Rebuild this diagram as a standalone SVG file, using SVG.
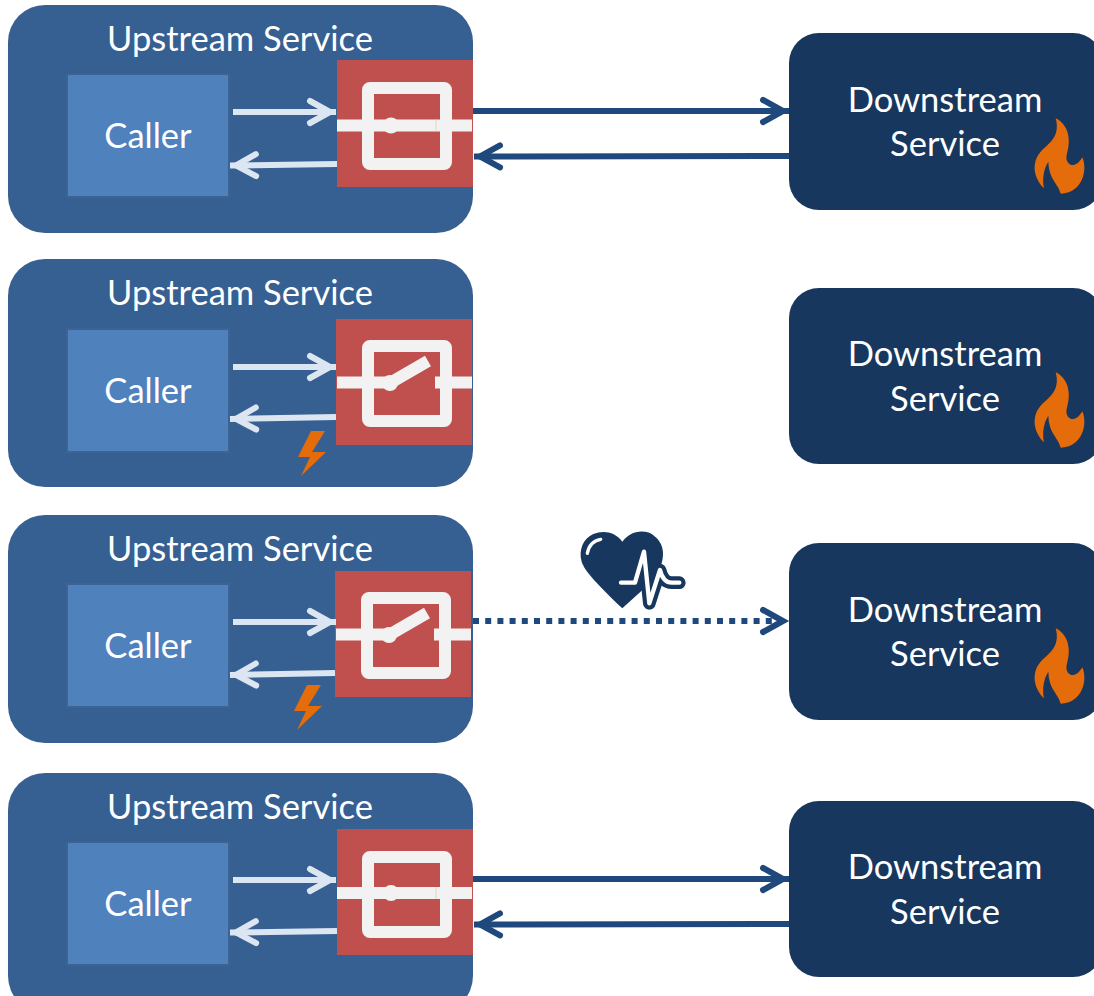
<svg xmlns="http://www.w3.org/2000/svg" width="1094" height="996" viewBox="0 0 1094 996">
<style>
text{font-family:"Lato","Carlito","Open Sans",sans-serif;fill:#fff;font-size:34.5px;text-anchor:middle}
.up{fill:#376092}
.caller{fill:#4f81bd;stroke:#3b6494;stroke-width:4;paint-order:stroke}
.cb{fill:#c0504d}
.sw{fill:none;stroke:#f2f2f2;stroke-width:12;stroke-linejoin:round}
.bar{fill:#f2f2f2}
.down{fill:#17375e}
.orange{fill:#e46c0a}
.w{stroke:#dce6f2;stroke-width:6;fill:none}
.d{stroke:#1f497d;stroke-width:6;fill:none}
.dot{stroke-dasharray:6 6.2}
.mw{fill:none;stroke:#dce6f2;stroke-width:6;stroke-linecap:round;stroke-linejoin:miter}
.md{fill:none;stroke:#1f497d;stroke-width:6;stroke-linecap:round;stroke-linejoin:miter}
</style>
<defs>
<marker id="aw" markerUnits="userSpaceOnUse" markerWidth="34" markerHeight="34" refX="31" refY="17" orient="auto" overflow="visible"><path class="mw" d="M5 6L25 17L5 28"/></marker>
<marker id="ad" markerUnits="userSpaceOnUse" markerWidth="34" markerHeight="34" refX="31" refY="17" orient="auto" overflow="visible"><path class="md" d="M5 6L25 17L5 28"/></marker>
<path id="flame" class="orange" transform="scale(.3333)" d="M125 55C165 75 172 120 158 165C152 190 180 215 205 172C222 210 205 280 140 281C133 250 105 240 103 185C90 205 84 235 90 265C60 235 50 190 80 155C105 130 140 110 125 55Z"/>
<polygon id="bolt" class="orange" points="325,431 311,431 298,457 310,457 301,476 326,452 312,452"/>
</defs>

<g id="upstream-1"><rect class="up" x="8" y="5" width="465" height="228" rx="37"/><text x="240" y="51">Upstream Service</text></g>
<g id="caller-1"><rect class="caller" x="68" y="75" width="160" height="121"/><text x="148" y="148">Caller</text></g>
<g id="breaker-1"><rect class="cb" x="337" y="60" width="136" height="127"/><rect class="sw" x="368" y="88" width="78" height="76" rx="2"/><rect class="bar" x="337" y="119.500" width="135" height="12"/><circle class="bar" cx="391" cy="125.500" r="8"/><rect x="435.500" y="119.500" width="1" height="12" fill="#e3cfce"/></g>
<g id="downstream-1"><rect class="down" x="789" y="33" width="314" height="177" rx="30"/><text x="945" y="112">Downstream</text><text x="945" y="156">Service</text><use href="#flame" x="1014" y="100"/></g>

<g id="upstream-2"><rect class="up" x="8" y="259" width="465" height="228" rx="37"/><text x="240" y="305">Upstream Service</text></g>
<g id="caller-2"><rect class="caller" x="68" y="330" width="160" height="121"/><text x="148" y="403">Caller</text></g>
<g id="breaker-2"><rect class="cb" x="336" y="319" width="136" height="126"/><rect class="sw" x="368" y="346" width="78" height="75" rx="2"/><rect class="bar" x="337" y="376.500" width="53" height="12"/><rect class="bar" x="435" y="376.500" width="37" height="12"/><circle class="bar" cx="390" cy="383" r="8"/><line x1="390" y1="383" x2="428" y2="361" stroke="#f2f2f2" stroke-width="12"/></g>
<g id="fault-2"><use href="#bolt"/></g>
<g id="downstream-2"><rect class="down" x="789" y="288" width="314" height="176" rx="30"/><text x="945" y="366">Downstream</text><text x="945" y="411">Service</text><use href="#flame" x="1014" y="354"/></g>

<g id="upstream-3"><rect class="up" x="8" y="515" width="465" height="228" rx="37"/><text x="240" y="561">Upstream Service</text></g>
<g id="caller-3"><rect class="caller" x="68" y="585" width="160" height="121"/><text x="148" y="658">Caller</text></g>
<g id="breaker-3"><rect class="cb" x="335" y="571" width="136" height="126"/><rect class="sw" x="367" y="598" width="78" height="75" rx="2"/><rect class="bar" x="336" y="628.500" width="53" height="12"/><rect class="bar" x="434" y="628.500" width="37" height="12"/><circle class="bar" cx="389" cy="635" r="8"/><line x1="389" y1="635" x2="427" y2="613" stroke="#f2f2f2" stroke-width="12"/></g>
<g id="fault-3"><use href="#bolt" x="-4" y="254"/></g>
<g id="heartbeat" transform="translate(560 520) scale(.3333)"><path fill="#17375e" d="M187 65C165 35 130 30 100 42C70 55 55 90 65 125C75 155 110 190 187 265L245 212L305 130C318 85 300 55 268 38C235 28 205 40 187 65Z"/><path d="M183 188H225L252 95L268 250L300 150C305 170 315 188 335 188H358" fill="none" stroke="#17375e" stroke-width="38" stroke-linecap="round" stroke-linejoin="round"/><path d="M183 188H225L252 95L268 250L300 150C305 170 315 188 335 188H358" fill="none" stroke="#fff" stroke-width="13" stroke-linecap="round" stroke-linejoin="round"/><path d="M82 100C86 78 100 62 122 58" fill="none" stroke="#fff" stroke-width="10" stroke-linecap="round"/></g>
<g id="downstream-3"><rect class="down" x="789" y="543" width="314" height="177" rx="30"/><text x="945" y="622">Downstream</text><text x="945" y="666">Service</text><use href="#flame" x="1014" y="610"/></g>

<g id="upstream-4"><rect class="up" x="8" y="773" width="465" height="240" rx="37"/><text x="240" y="819">Upstream Service</text></g>
<g id="caller-4"><rect class="caller" x="68" y="843" width="160" height="121"/><text x="148" y="916">Caller</text></g>
<g id="breaker-4"><rect class="cb" x="337" y="829" width="136" height="126"/><rect class="sw" x="368" y="857" width="78" height="75" rx="2"/><rect class="bar" x="337" y="887" width="135" height="12"/><circle class="bar" cx="391" cy="893" r="8"/><rect x="435.500" y="887" width="1" height="12" fill="#e3cfce"/></g>
<g id="downstream-4"><rect class="down" x="789" y="801" width="314" height="176" rx="30"/><text x="945" y="879">Downstream</text><text x="945" y="924">Service</text></g>

<g id="connectors">
<line class="w" x1="233" y1="112" x2="336" y2="112" marker-end="url(#aw)"/>
<line class="w" x1="337" y1="164" x2="230" y2="165.500" marker-end="url(#aw)"/>
<line class="d" x1="473" y1="111" x2="789" y2="111" marker-end="url(#ad)"/>
<line class="d" x1="789" y1="156" x2="474" y2="156.500" marker-end="url(#ad)"/>
<line class="w" x1="233" y1="367" x2="336" y2="367" marker-end="url(#aw)"/>
<line class="w" x1="336" y1="417" x2="230" y2="419" marker-end="url(#aw)"/>
<line class="w" x1="233" y1="622" x2="336" y2="622" marker-end="url(#aw)"/>
<line class="w" x1="335" y1="673" x2="230" y2="675" marker-end="url(#aw)"/>
<line class="d dot" x1="473" y1="621" x2="789" y2="621" marker-end="url(#ad)"/>
<line class="w" x1="233" y1="880" x2="336" y2="880" marker-end="url(#aw)"/>
<line class="w" x1="337" y1="931" x2="230" y2="932.500" marker-end="url(#aw)"/>
<line class="d" x1="473" y1="879" x2="789" y2="879" marker-end="url(#ad)"/>
<line class="d" x1="789" y1="924" x2="474" y2="924.500" marker-end="url(#ad)"/>
</g>
</svg>
